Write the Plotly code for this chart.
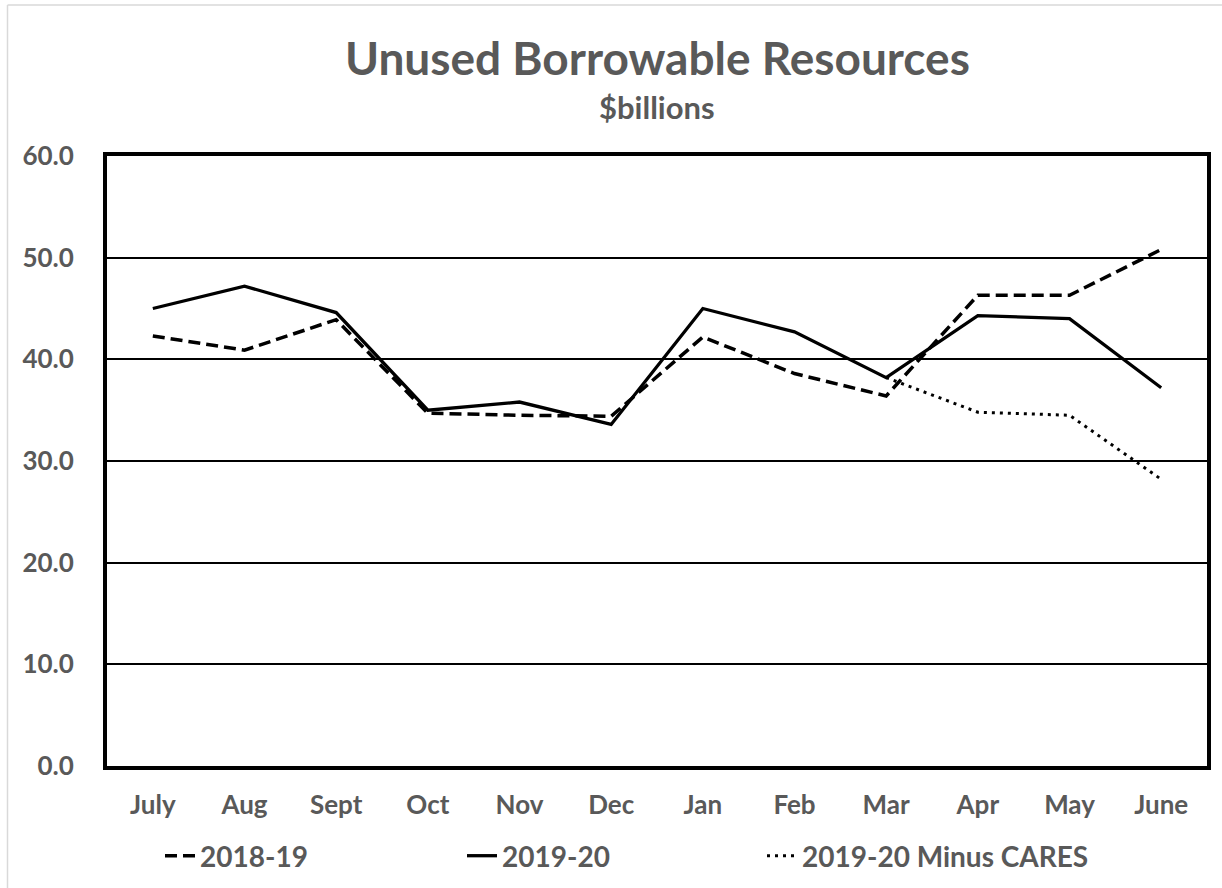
import plotly.graph_objects as go

months = ["July", "Aug", "Sept", "Oct", "Nov", "Dec", "Jan", "Feb", "Mar", "Apr", "May", "June"]
fy2018_19 = [42.3, 40.9, 43.9, 34.7, 34.5, 34.4, 42.2, 38.6, 36.4, 46.3, 46.3, 50.8]
fy2019_20 = [45.0, 47.2, 44.6, 35.0, 35.8, 33.6, 45.0, 42.7, 38.2, 44.3, 44.0, 37.2]
fy2019_20_minus_cares = [None, None, None, None, None, None, None, None, 38.2, 34.8, 34.5, 28.2]
y_ticks = [0, 10, 20, 30, 40, 50, 60]

W, H = 1222, 888
ML, MR, MT, MB = 107, 15, 156, 122
PW, PH = W - ML - MR, H - MT - MB

def px_x(p):
    return (p - ML) / PW

def px_y(p):
    return (H - MB - p) / PH

FONT = "Lato"
GRAY = "#595959"

fig = go.Figure()
fig.add_trace(go.Scatter(x=months, y=fy2018_19, name="2018-19", mode="lines",
                         line=dict(color="black", width=3.5, dash="12px,6px"), legend="legend"))
fig.add_trace(go.Scatter(x=months, y=fy2019_20_minus_cares, name="2019-20 Minus CARES", mode="lines",
                         line=dict(color="black", width=3, dash="3px,5px"), legend="legend3"))
fig.add_trace(go.Scatter(x=months, y=fy2019_20, name="2019-20", mode="lines",
                         line=dict(color="black", width=3.3), legend="legend2"))

legend_common = dict(orientation="h", yanchor="middle", xanchor="left",
                     font=dict(family=FONT, size=28, color=GRAY, weight="bold"),
                     bgcolor="rgba(0,0,0,0)", itemwidth=30)

fig.update_layout(
    width=W, height=H,
    margin=dict(l=ML, r=MR, t=MT, b=MB, autoexpand=False),
    paper_bgcolor="white", plot_bgcolor="white",
    font=dict(family=FONT, color=GRAY),
    showlegend=True,
    xaxis=dict(type="category", categoryorder="array", categoryarray=months,
               range=[-0.5, len(months) - 0.5],
               showgrid=False, showline=True, mirror=True, linecolor="black", linewidth=4,
               ticks="", ticklabelstandoff=13,
               tickfont=dict(family=FONT, size=26, color=GRAY, weight="bold"), zeroline=False),
    yaxis=dict(range=[0, 60], tickvals=y_ticks, tickformat=".1f",
               showgrid=True, gridcolor="black", gridwidth=1.5,
               showline=True, mirror=True, linecolor="black", linewidth=4,
               ticks="", ticklabelstandoff=24,
               tickfont=dict(family=FONT, size=26, color=GRAY, weight="bold"), zeroline=False),
    legend=dict(x=px_x(160), y=px_y(856), **legend_common),
    legend2=dict(x=px_x(462), y=px_y(856), **legend_common),
    legend3=dict(x=px_x(762), y=px_y(856), **legend_common),
    annotations=[
        dict(text="Unused Borrowable Resources", xref="paper", yref="paper",
             x=0.5, y=px_y(57), xanchor="center", yanchor="middle", showarrow=False,
             font=dict(family=FONT, size=46, color=GRAY, weight="bold")),
        dict(text="$billions", xref="paper", yref="paper",
             x=0.5, y=px_y(107), xanchor="center", yanchor="middle", showarrow=False,
             font=dict(family=FONT, size=31, color=GRAY, weight="bold")),
    ],
    shapes=[
        dict(type="line", xref="paper", yref="paper", x0=px_x(7.5), x1=px_x(7.5), y0=px_y(5), y1=px_y(900),
             line=dict(color="#d9d9d9", width=1.5)),
        dict(type="line", xref="paper", yref="paper", x0=px_x(7.5), x1=px_x(1230), y0=px_y(5), y1=px_y(5),
             line=dict(color="#d9d9d9", width=1.5)),
    ],
)

fig.write_html("out.html")
